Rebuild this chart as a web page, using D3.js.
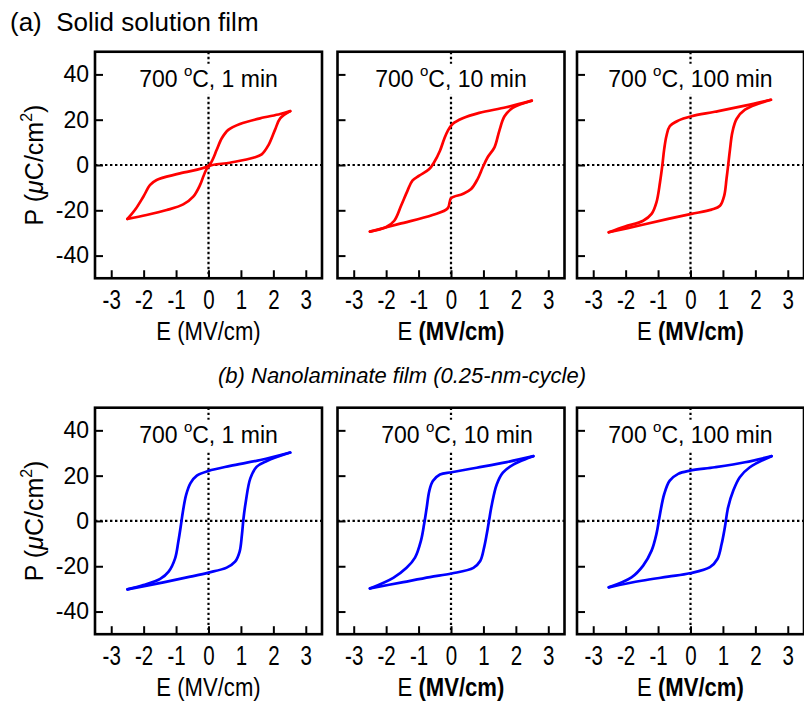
<!DOCTYPE html>
<html><head><meta charset="utf-8">
<script src="https://cdn.jsdelivr.net/npm/d3@7"></script>
<style>body{margin:0;background:#fff}svg{display:block}text{font-family:"Liberation Sans",Arial,sans-serif;fill:#000}</style>
</head><body><svg id="c" width="804" height="702"></svg>
<script>
// ---------- data ----------
const xTicks = [-3, -2, -1, 0, 1, 2, 3];
const yTicks = [-40, -20, 0, 20, 40];
const xDomain = [-3.5, 3.5];
const yDomain = [-50, 50];
const rowTitles = ["(a)  Solid solution film", "(b) Nanolaminate film (0.25-nm-cycle)"];
const annealTemp = "700";
const annealTimes = ["1 min", "10 min", "100 min"];
const rowColors = ["#ff0000", "#0000ff"];

// (a) solid solution, 1 min : descending / ascending branches [E, P]
const a1Down = [[2.52,23.8],[2.21,22.5],[1.59,20.6],[0.97,18.1],[0.61,15.5],[0.41,11.8],[0.25,6.6],[0.12,2.2],[0.0,-0.4],[-0.88,-3.7],[-1.6,-6.6],[-1.8,-8.8],[-2.01,-14],[-2.27,-19.9],[-2.5,-23.8]];
const a1Up = [[-2.5,-23.8],[-1.91,-22.1],[-1.29,-19.9],[-0.78,-17.4],[-0.47,-14],[-0.26,-8.8],[-0.14,-4.4],[0.0,-0.7],[0.66,1.0],[1.38,3.2],[1.64,4.7],[1.85,8.8],[2.05,15.5],[2.21,20.6],[2.52,23.8]];
// (a) 10 min
const a2Down = [[2.49,28.4],[1.70,25.5],[0.87,23.0],[0.36,20.6],[0.05,18.1],[-0.10,15.1],[-0.21,11.5],[-0.34,6.3],[-0.52,1.2],[-0.67,-1.8],[-0.98,-4.7],[-1.19,-6.9],[-1.34,-11.3],[-1.54,-18],[-1.75,-24.6],[-2.01,-27.5],[-2.5,-29.4]];
const a2Up = [[-2.5,-29.4],[-1.60,-26],[-0.57,-22.1],[-0.10,-19.1],[0.0,-14.7],[0.36,-12.8],[0.62,-10.6],[0.82,-6.2],[0.98,-1.0],[1.13,3.4],[1.34,7.8],[1.49,15.1],[1.65,21.5],[1.90,25.2],[2.49,28.4]];
// (a) 100 min
const a3Down = [[2.48,28.8],[1.68,26.2],[0.75,23.5],[0.03,21.5],[-0.38,19.6],[-0.64,17.1],[-0.74,12.9],[-0.81,7.1],[-0.87,-0.3],[-0.94,-7.6],[-1.05,-16.5],[-1.2,-21.6],[-1.46,-24.6],[-2.02,-27.2],[-2.52,-29.7]];
const a3Up = [[-2.52,-29.7],[-1.51,-26.5],[-0.69,-23.8],[0.03,-21.6],[0.65,-19.7],[0.91,-18],[1.04,-13.5],[1.11,-6.2],[1.16,-0.3],[1.22,7.1],[1.29,14.4],[1.42,20.3],[1.68,24.4],[2.48,28.8]];
// (b) nanolaminate, 1 min
const b1Down = [[2.52,30.2],[1.60,26.9],[0.67,24.3],[0.0,22.1],[-0.36,20],[-0.56,16.6],[-0.69,11.5],[-0.79,4.1],[-0.85,-1.8],[-0.93,-9.1],[-1.03,-16.5],[-1.23,-22.4],[-1.49,-25.6],[-2.01,-28.3],[-2.5,-30.2]];
const b1Up = [[-2.5,-30.2],[-1.39,-27.1],[-0.56,-24.6],[0.0,-22.8],[0.56,-20.6],[0.82,-18],[0.96,-13.5],[1.03,-6.2],[1.08,1.2],[1.15,8.5],[1.29,18.8],[1.49,24],[1.80,26.5],[2.52,30.2]];
// (b) 10 min
const b2Down = [[2.54,28.6],[1.72,26],[0.79,23.5],[0.02,21.5],[-0.34,20.5],[-0.56,17.6],[-0.67,13.2],[-0.75,5.8],[-0.83,-1.5],[-0.93,-8.9],[-1.11,-16.2],[-1.37,-20.7],[-1.78,-25.1],[-2.5,-29.8]];
const b2Up = [[-2.5,-29.8],[-1.47,-27],[-0.65,-24.8],[0.02,-23.2],[0.69,-20.7],[0.90,-17.7],[1.02,-11.8],[1.10,-6],[1.17,-0.1],[1.26,7.3],[1.41,16.1],[1.60,21.3],[1.92,24.9],[2.54,28.6]];
// (b) 100 min
const b3Down = [[2.5,28.6],[1.68,25.9],[0.75,23.7],[-0.02,22.2],[-0.38,20.8],[-0.64,17.8],[-0.81,11.9],[-0.94,3.1],[-1.05,-5.7],[-1.2,-13.1],[-1.46,-19.7],[-1.82,-24.9],[-2.52,-29.3]];
const b3Up = [[-2.52,-29.3],[-1.51,-26.4],[-0.69,-24.6],[-0.02,-23.1],[0.6,-20.4],[0.83,-16.8],[0.96,-10.2],[1.06,-2.8],[1.16,6.0],[1.32,13.4],[1.52,19.3],[1.83,23.7],[2.5,28.6]];

const loops = [[[a1Down, a1Up], [a2Down, a2Up], [a3Down, a3Up]],
               [[b1Down, b1Up], [b2Down, b2Up], [b3Down, b3Up]]];

// ---------- layout ----------
const colLeft = [95, 337.5, 577];
const rowTop = [51.75, 407.7];
const pw = 227, ph = 226.5;

const svg = d3.select("#c");

// row titles
svg.append("text").attr("x", 10).attr("y", 31).attr("font-size", 26)
   .style("white-space", "pre").text(rowTitles[0]);
svg.append("text").attr("x", 402).attr("y", 383).attr("text-anchor", "middle")
   .attr("font-size", 22).attr("font-style", "italic").text(rowTitles[1]);

const x = d3.scaleLinear().domain(xDomain).range([0, pw]);
const y = d3.scaleLinear().domain(yDomain).range([ph, 0]);
const line = d3.line().x(d => x(d[0])).y(d => y(d[1])).curve(d3.curveCatmullRom.alpha(0.5));

for (let r = 0; r < 2; r++) {
  for (let c = 0; c < 3; c++) {
    const g = svg.append("g").attr("transform", `translate(${colLeft[c]},${rowTop[r]})`);

    // dotted zero lines
    g.append("line").attr("x1", x(0)).attr("x2", x(0)).attr("y1", 0).attr("y2", ph)
      .attr("stroke", "#000").attr("stroke-width", 2.2).attr("stroke-dasharray", "2.4,2.6");
    g.append("line").attr("x1", 0).attr("x2", pw).attr("y1", y(0)).attr("y2", y(0))
      .attr("stroke", "#000").attr("stroke-width", 2.2).attr("stroke-dasharray", "2.4,2.6");

    // annotation with white background
    const ann = g.append("g");
    const bg = ann.append("rect").attr("fill", "#fff");
    const t = ann.append("text").attr("x", x(0) + (r === 1 && c === 1 ? 6 : 0)).attr("y", 35)
      .attr("text-anchor", "middle").attr("font-size", 23).style("white-space", "pre");
    t.append("tspan").text(annealTemp + " ");
    t.append("tspan").attr("font-size", 15).attr("dy", -11).text("o");
    t.append("tspan").attr("dy", 11).text("C, " + annealTimes[c]);
    const bb = t.node().getBBox();
    bg.attr("x", bb.x - 2).attr("y", bb.y + 2).attr("width", bb.width + 4).attr("height", bb.height + 1);

    // loops
    loops[r][c].forEach(br => {
      g.append("path").attr("d", line(br)).attr("fill", "none")
        .attr("stroke", rowColors[r]).attr("stroke-width", 2.7)
        .attr("stroke-linejoin", "round").attr("stroke-linecap", "round");
    });

    // x axis
    const xa = g.append("g").attr("transform", `translate(0,${ph})`)
      .call(d3.axisBottom(x).tickValues(xTicks).tickSize(-8).tickPadding(12).tickFormat(d3.format("d")));
    xa.select(".domain").remove();
    xa.selectAll(".tick line").attr("stroke", "#000").attr("stroke-width", 2);
    xa.selectAll(".tick text").attr("font-family", '"Liberation Sans",Arial,sans-serif')
      .attr("font-size", 27).attr("fill", "#000").attr("transform", "scale(0.76,1)")
      .text(d => d < 0 ? "-" + Math.abs(d) : String(d));

    // y axis
    const ya = g.append("g")
      .call(d3.axisLeft(y).tickValues(yTicks).tickSize(-8).tickPadding(6)
        .tickFormat(c === 0 ? (d => d < 0 ? "-" + Math.abs(d) : String(d)) : ""));
    ya.select(".domain").remove();
    ya.selectAll(".tick line").attr("stroke", "#000").attr("stroke-width", 2);
    ya.selectAll(".tick text").attr("font-family", '"Liberation Sans",Arial,sans-serif')
      .attr("font-size", 23).attr("fill", "#000");

    // frame
    g.append("rect").attr("x", 0).attr("y", 0).attr("width", pw).attr("height", ph)
      .attr("fill", "none").attr("stroke", "#000").attr("stroke-width", 2.6);

    // x axis title
    const xt = g.append("text").attr("x", x(0)).attr("y", ph + 62)
      .attr("text-anchor", "middle").attr("font-size", 26)
      .attr("transform", `translate(${x(0) * 0.15},0) scale(0.85,1)`);
    if (c === 0) {
      xt.text("E (MV/cm)");
    } else {
      xt.append("tspan").text("E ");
      xt.append("tspan").attr("font-weight", "bold").text("(MV/cm)");
    }

    // y axis title (first column only)
    if (c === 0) {
      const yt = g.append("text").attr("transform", `translate(${43 - colLeft[0]},${y(0)}) rotate(-90)`)
        .attr("text-anchor", "middle").attr("font-size", 25);
      yt.append("tspan").text("P (");
      yt.append("tspan").attr("font-style", "italic").text("\u03BC");
      yt.append("tspan").text("C/cm");
      yt.append("tspan").attr("font-size", 16).attr("dy", -11).text("2");
      yt.append("tspan").attr("dy", 11).text(")");
    }
  }
}
</script>
</body></html>
